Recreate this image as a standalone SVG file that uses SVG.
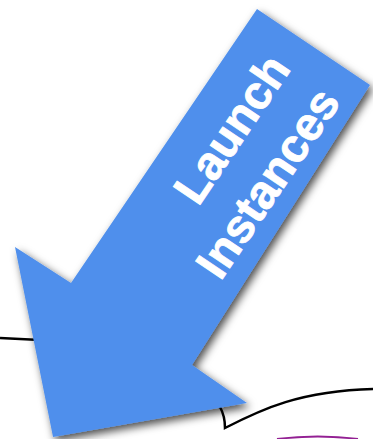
<svg xmlns="http://www.w3.org/2000/svg" width="373" height="439" viewBox="0 0 373 439">
<defs>
<filter id="sh" x="-20%" y="-20%" width="140%" height="140%">
<feDropShadow dx="3" dy="4" stdDeviation="4.5" flood-color="#000" flood-opacity="0.7"/>
</filter>
<style>
.ln{fill:none;stroke:#000;stroke-width:2.5}
.lbl{font-family:"Liberation Sans",Arial,sans-serif;font-weight:bold;font-size:47px;fill:#fff;stroke:#fff;stroke-width:0.8;text-anchor:middle}
</style>
</defs>
<rect width="373" height="439" fill="#fff"/>
<g id="connectors">
<path class="ln" d="M0,338 L60,341"/>
<path class="ln" d="M220,407 Q225,416 225,428 C262,409 300,391 373,389"/>
<path d="M277,439 Q318,434 358,439" fill="none" stroke="#932093" stroke-width="2"/>
</g>
<g id="arrow">
<polygon points="257,9 370,85 192,365 247,403 53,437 15,247 71,283" fill="#4f8fec" filter="url(#sh)"/>
<text class="lbl" transform="translate(245,138) rotate(-56)">Launch</text>
<text class="lbl" transform="translate(281,192) rotate(-56)">Instances</text>
</g>
</svg>
